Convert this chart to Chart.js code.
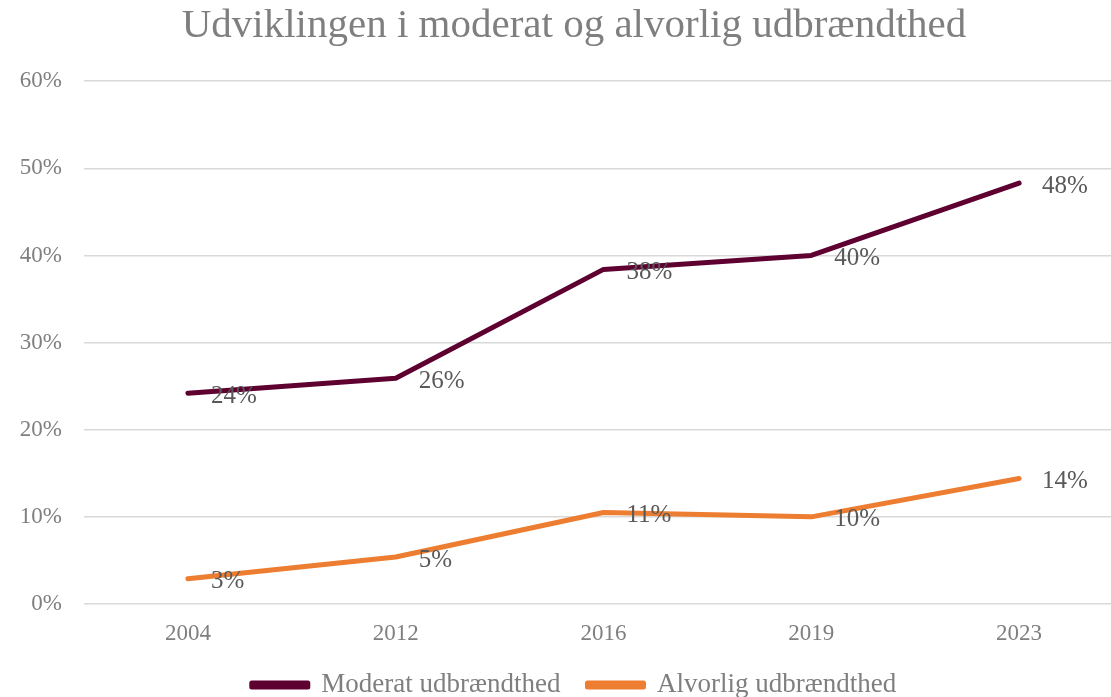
<!DOCTYPE html>
<html>
<head>
<meta charset="utf-8">
<script src="https://cdn.jsdelivr.net/npm/chart.js@4/dist/chart.umd.min.js"></script>
<style>
html,body{margin:0;padding:0;background:#fff;overflow:hidden;}
#wrap{width:1150px;height:697px;position:relative;}
</style>
</head>
<body>
<div id="wrap"><canvas id="c" width="1150" height="697"></canvas></div>
<script>
const categories = ['2004','2012','2016','2019','2023'];
const moderatValues = [24.2, 25.9, 38.4, 40.0, 48.3];
const alvorligValues = [2.9, 5.4, 10.5, 10.0, 14.4];
const moderatLabels = ['24%','26%','38%','40%','48%'];
const alvorligLabels = ['3%','5%','11%','10%','14%'];
const yTicks = [0,10,20,30,40,50,60];

const FONT = '"Liberation Serif", "DejaVu Serif", serif';

const labelPlugin = {
  id: 'pointLabels',
  afterDatasetsDraw(chart) {
    const ctx = chart.ctx;
    const texts = [moderatLabels, alvorligLabels];
    ctx.save();
    ctx.font = '25px ' + FONT;
    ctx.fillStyle = '#595959';
    ctx.textAlign = 'left';
    ctx.textBaseline = 'middle';
    chart.data.datasets.forEach((ds, i) => {
      const meta = chart.getDatasetMeta(i);
      meta.data.forEach((pt, j) => {
        ctx.fillText(texts[i][j], pt.x + 23, pt.y + 3);
      });
    });
    ctx.restore();
  }
};

const legendFix = {
  id: 'legendFix',
  afterInit(chart) {
    const lg = chart.legend;
    if (!lg) return;
    const f = lg.fit.bind(lg);
    lg.fit = function () { f(); this.height = 52.5; };
  }
};

new Chart(document.getElementById('c'), {
  type: 'line',
  data: {
    labels: categories,
    datasets: [
      { label: 'Moderat udbrændthed', data: moderatValues, borderColor: '#5E0030', backgroundColor: '#5E0030',
        borderWidth: 5, pointRadius: 0, borderCapStyle: 'round', borderJoinStyle: 'round', tension: 0 },
      { label: 'Alvorlig udbrændthed', data: alvorligValues, borderColor: '#ED7D31', backgroundColor: '#ED7D31',
        borderWidth: 5, pointRadius: 0, borderCapStyle: 'round', borderJoinStyle: 'round', tension: 0 }
    ]
  },
  options: {
    responsive: false,
    animation: false,
    layout: { padding: { left: 25, right: 27, top: 0, bottom: 0 } },
    plugins: {
      title: { display: true, text: 'Udviklingen i moderat og alvorlig udbrændthed',
        color: '#7F7F7F', font: { family: FONT, size: 41, weight: 'normal' }, padding: { top: 2, bottom: 30 } },
      legend: { display: true, position: 'bottom',
        labels: { color: '#7F7F7F', font: { family: FONT, size: 27 }, boxWidth: 56, boxHeight: 4, padding: 27 } },
      tooltip: { enabled: false }
    },
    scales: {
      x: {
        offset: true,
        afterFit(s) { s.height = 40.5; },
        grid: { display: false, drawTicks: false },
        border: { display: false },
        ticks: { color: '#7F7F7F', font: { family: FONT, size: 23 }, padding: 16 }
      },
      y: {
        min: 0, max: 60,
        afterFit(s) { s.width = 59; s._computeLabelArea = () => undefined; },
        afterBuildTicks(s) { s.ticks = yTicks.map(v => ({ value: v })); },
        grid: { color: '#D9D9D9', lineWidth: 1.5, drawTicks: false },
        border: { display: false },
        ticks: { color: '#7F7F7F', font: { family: FONT, size: 23 }, padding: 22,
          callback: v => v + '%' }
      }
    }
  },
  plugins: [labelPlugin, legendFix]
});
</script>
</body>
</html>
